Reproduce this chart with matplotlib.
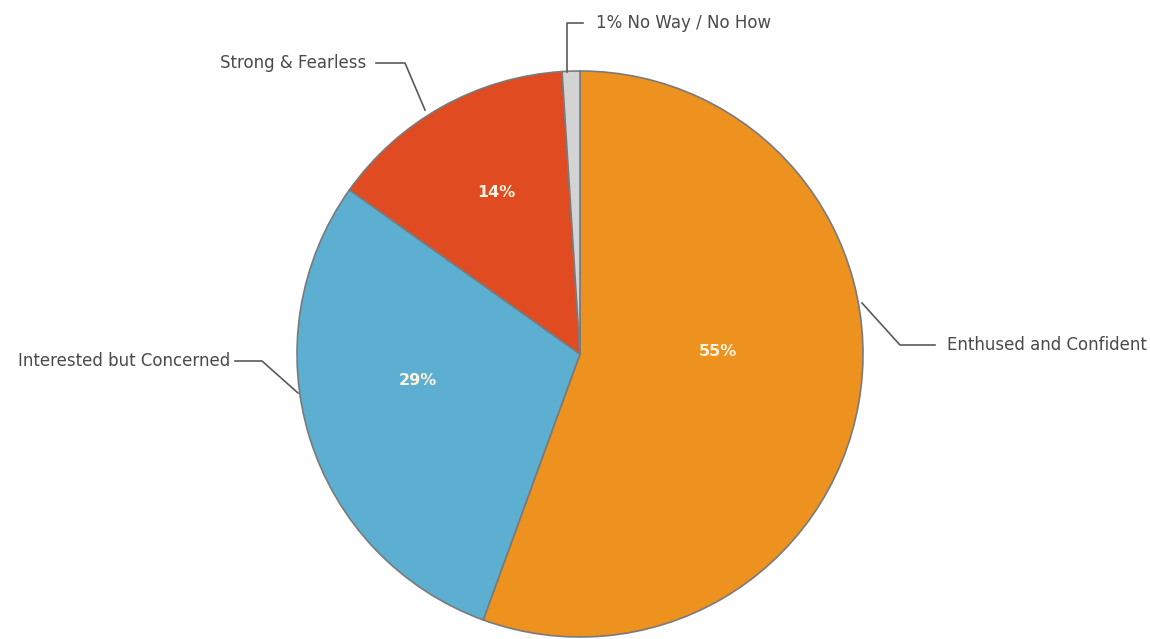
import matplotlib
matplotlib.use("Agg")
import matplotlib.pyplot as plt
import numpy as np

# Data
categories = ["Enthused and Confident", "Interested but Concerned", "Strong & Fearless", "No Way / No How"]
values = [55, 29, 14, 1]
colors = ["#EE921F", "#5DAFD2", "#E04B22", "#D3D3D3"]

W, H = 1150, 639
fig = plt.figure(figsize=(W / 100, H / 100), dpi=100)
ax = fig.add_axes([0, 0, 1, 1])

cx, cy, R = 580, H - 354, 283
wedges, _ = ax.pie(values, colors=colors, startangle=90, counterclock=False,
                   center=(cx, cy), radius=R, frame=True,
                   wedgeprops=dict(edgecolor="#7a7a7a", linewidth=1.2))
ax.set_xlim(0, W)
ax.set_ylim(0, H)
ax.set_aspect("equal")
ax.axis("off")

# percentage label offsets (layout, in units of radius)
label_off = [(0.488, 0.01), (-0.572, -0.095), (-0.297, 0.569), None]
for w, v, off in zip(wedges, values, label_off):
    if off is None:
        continue
    ax.text(cx + off[0] * R, cy + off[1] * R, f"{v}%", color="#FFF3DF",
            fontsize=11.5, fontweight="bold", ha="center", va="center",
            family="DejaVu Sans Condensed")

tc = "#4a4a4a"
lc = "#5a5a5a"
fs = 12

def Y(y):
    return H - y

# Enthused and Confident
ax.plot([862, 900, 935], [Y(303), Y(345), Y(345)], color=lc, lw=1.2)
ax.text(947, Y(345), categories[0], color=tc, fontsize=fs, ha="left", va="center",
        family="DejaVu Sans Condensed")
# Interested but Concerned
ax.plot([298, 262, 235], [Y(393), Y(361), Y(361)], color=lc, lw=1.2)
ax.text(230, Y(361), categories[1], color=tc, fontsize=fs, ha="right", va="center",
        family="DejaVu Sans Condensed")
# Strong & Fearless
ax.plot([425, 405, 376], [Y(110), Y(63), Y(63)], color=lc, lw=1.2)
ax.text(366, Y(63), categories[2], color=tc, fontsize=fs, ha="right", va="center",
        family="DejaVu Sans Condensed")
# No Way / No How
ax.plot([567, 567, 583], [Y(72), Y(23), Y(23)], color=lc, lw=1.2)
ax.text(596, Y(23), f"{values[3]}% {categories[3]}", color=tc, fontsize=fs, ha="left",
        va="center", family="DejaVu Sans Condensed")

fig.savefig("out.png", dpi=100, facecolor="white")
